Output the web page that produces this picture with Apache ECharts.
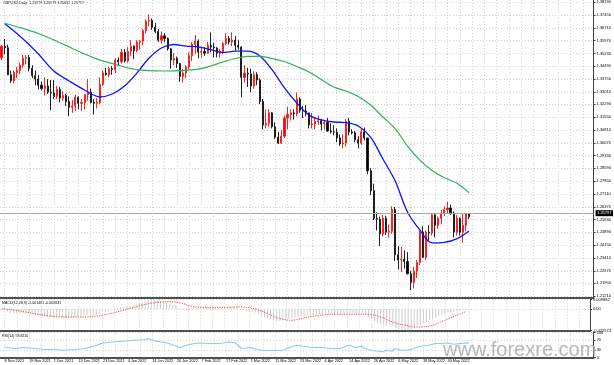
<!DOCTYPE html>
<html><head><meta charset="utf-8">
<script src="https://cdn.jsdelivr.net/npm/echarts@6/dist/echarts.min.js"></script>
<style>html,body{margin:0;padding:0;background:#fff;overflow:hidden}#c{width:614px;height:365px}</style>
</head><body><div id="c"></div>
<script>
// ---------------- data ----------------
const dates = [
'2021-11-08','2021-11-09','2021-11-10','2021-11-11','2021-11-12','2021-11-15','2021-11-16','2021-11-17','2021-11-18','2021-11-19',
'2021-11-22','2021-11-23','2021-11-24','2021-11-25','2021-11-26','2021-11-29','2021-11-30',
'2021-12-01','2021-12-02','2021-12-03','2021-12-06','2021-12-07','2021-12-08','2021-12-09','2021-12-10','2021-12-13','2021-12-14',
'2021-12-15','2021-12-16','2021-12-17','2021-12-20','2021-12-21','2021-12-22','2021-12-23','2021-12-24','2021-12-27','2021-12-28',
'2021-12-29','2021-12-30','2021-12-31',
'2022-01-03','2022-01-04','2022-01-05','2022-01-06','2022-01-07','2022-01-10','2022-01-11','2022-01-12','2022-01-13','2022-01-14',
'2022-01-17','2022-01-18','2022-01-19','2022-01-20','2022-01-21','2022-01-24','2022-01-25','2022-01-26','2022-01-27','2022-01-28','2022-01-31',
'2022-02-01','2022-02-02','2022-02-03','2022-02-04','2022-02-07','2022-02-08','2022-02-09','2022-02-10','2022-02-11','2022-02-14',
'2022-02-15','2022-02-16','2022-02-17','2022-02-18','2022-02-21','2022-02-22','2022-02-23','2022-02-24','2022-02-25','2022-02-28',
'2022-03-01','2022-03-02','2022-03-03','2022-03-04','2022-03-07','2022-03-08','2022-03-09','2022-03-10','2022-03-11','2022-03-14',
'2022-03-15','2022-03-16','2022-03-17','2022-03-18','2022-03-21','2022-03-22','2022-03-23','2022-03-24','2022-03-25','2022-03-28',
'2022-03-29','2022-03-30','2022-03-31',
'2022-04-01','2022-04-04','2022-04-05','2022-04-06','2022-04-07','2022-04-08','2022-04-11','2022-04-12','2022-04-13','2022-04-14',
'2022-04-15','2022-04-18','2022-04-19','2022-04-20','2022-04-21','2022-04-22','2022-04-25','2022-04-26','2022-04-27','2022-04-28','2022-04-29',
'2022-05-02','2022-05-03','2022-05-04','2022-05-05','2022-05-06','2022-05-09','2022-05-10','2022-05-11','2022-05-12','2022-05-13',
'2022-05-16','2022-05-17','2022-05-18','2022-05-19','2022-05-20','2022-05-23','2022-05-24','2022-05-25','2022-05-26','2022-05-27',
'2022-05-30','2022-05-31',
'2022-06-01','2022-06-02','2022-06-03','2022-06-06','2022-06-07','2022-06-08'
];
// [open, high, low, close]
const ohlc = [
[1.3498,1.3572,1.3486,1.3565],[1.3565,1.3607,1.3520,1.3556],[1.3556,1.3574,1.3398,1.3400],[1.3400,1.3424,1.3354,1.3365],[1.3365,1.3425,1.3350,1.3415],
[1.3415,1.3445,1.3380,1.3425],[1.3425,1.3470,1.3405,1.3455],[1.3455,1.3515,1.3440,1.3495],[1.3495,1.3515,1.3460,1.3500],[1.3500,1.3515,1.3420,1.3438],
[1.3438,1.3455,1.3380,1.3395],[1.3395,1.3425,1.3340,1.3375],[1.3375,1.3400,1.3315,1.3340],[1.3340,1.3360,1.3310,1.3320],[1.3320,1.3385,1.3280,1.3335],
[1.3335,1.3375,1.3290,1.3300],[1.3300,1.3370,1.3195,1.3295],[1.3295,1.3370,1.3260,1.3275],[1.3275,1.3335,1.3260,1.3315],[1.3315,1.3330,1.3240,1.3265],
[1.3265,1.3305,1.3250,1.3280],[1.3280,1.3290,1.3220,1.3245],[1.3245,1.3275,1.3160,1.3212],[1.3212,1.3255,1.3180,1.3220],[1.3220,1.3285,1.3190,1.3270],
[1.3270,1.3275,1.3200,1.3235],[1.3235,1.3260,1.3190,1.3240],[1.3240,1.3290,1.3200,1.3285],[1.3285,1.3375,1.3250,1.3300],[1.3300,1.3320,1.3235,1.3240],
[1.3240,1.3260,1.3170,1.3235],[1.3235,1.3265,1.3205,1.3240],[1.3240,1.3385,1.3230,1.3345],[1.3345,1.3425,1.3335,1.3410],[1.3410,1.3440,1.3395,1.3400],
[1.3400,1.3445,1.3385,1.3435],[1.3435,1.3450,1.3400,1.3430],[1.3430,1.3495,1.3410,1.3485],[1.3485,1.3500,1.3450,1.3475],[1.3475,1.3550,1.3465,1.3530],
[1.3530,1.3550,1.3470,1.3480],[1.3480,1.3560,1.3470,1.3535],[1.3535,1.3600,1.3510,1.3565],[1.3565,1.3570,1.3490,1.3540],[1.3540,1.3600,1.3530,1.3590],
[1.3590,1.3600,1.3545,1.3595],[1.3595,1.3665,1.3570,1.3655],[1.3655,1.3720,1.3640,1.3710],[1.3710,1.3749,1.3680,1.3715],[1.3715,1.3725,1.3660,1.3675],
[1.3675,1.3700,1.3640,1.3650],[1.3650,1.3665,1.3590,1.3600],[1.3600,1.3650,1.3580,1.3625],[1.3625,1.3640,1.3590,1.3610],[1.3610,1.3615,1.3540,1.3550],
[1.3550,1.3555,1.3435,1.3485],[1.3485,1.3525,1.3455,1.3495],[1.3495,1.3505,1.3440,1.3465],[1.3465,1.3470,1.3360,1.3390],[1.3390,1.3435,1.3355,1.3410],
[1.3410,1.3455,1.3380,1.3445],[1.3445,1.3530,1.3430,1.3510],[1.3510,1.3590,1.3480,1.3575],[1.3575,1.3630,1.3520,1.3595],[1.3595,1.3605,1.3495,1.3530],
[1.3530,1.3555,1.3500,1.3535],[1.3535,1.3560,1.3510,1.3525],[1.3525,1.3590,1.3520,1.3570],[1.3570,1.3645,1.3530,1.3560],[1.3560,1.3585,1.3500,1.3555],
[1.3555,1.3560,1.3500,1.3525],[1.3525,1.3550,1.3500,1.3535],[1.3535,1.3590,1.3520,1.3580],[1.3580,1.3640,1.3570,1.3610],[1.3610,1.3625,1.3575,1.3590],
[1.3590,1.3645,1.3565,1.3600],[1.3600,1.3625,1.3540,1.3570],[1.3570,1.3600,1.3545,1.3560],[1.3560,1.3565,1.3270,1.3385],[1.3385,1.3455,1.3355,1.3410],
[1.3410,1.3440,1.3330,1.3405],[1.3405,1.3435,1.3300,1.3335],[1.3335,1.3420,1.3320,1.3400],[1.3400,1.3415,1.3340,1.3370],[1.3370,1.3380,1.3230,1.3245],
[1.3245,1.3260,1.3085,1.3110],[1.3110,1.3200,1.3090,1.3120],[1.3120,1.3200,1.3100,1.3180],[1.3180,1.3185,1.3090,1.3100],[1.3100,1.3125,1.3030,1.3040],
[1.3040,1.3070,1.3000,1.3005],[1.3005,1.3080,1.3000,1.3045],[1.3045,1.3165,1.3035,1.3150],[1.3150,1.3215,1.3085,1.3170],[1.3170,1.3200,1.3135,1.3180],
[1.3180,1.3200,1.3140,1.3175],[1.3175,1.3298,1.3160,1.3260],[1.3260,1.3270,1.3180,1.3195],[1.3195,1.3220,1.3150,1.3190],[1.3190,1.3225,1.3160,1.3180],
[1.3180,1.3180,1.3090,1.3110],[1.3110,1.3180,1.3090,1.3115],[1.3115,1.3150,1.3085,1.3130],[1.3130,1.3165,1.3110,1.3135],[1.3135,1.3145,1.3080,1.3115],
[1.3115,1.3140,1.3085,1.3125],[1.3125,1.3150,1.3070,1.3075],[1.3075,1.3120,1.3060,1.3070],[1.3070,1.3110,1.3050,1.3068],[1.3068,1.3090,1.3010,1.3035],
[1.3035,1.3055,1.2990,1.3000],[1.3000,1.3055,1.2975,1.3005],[1.3005,1.3145,1.2985,1.3130],[1.3130,1.3150,1.3050,1.3070],[1.3070,1.3085,1.3055,1.3065],
[1.3065,1.3075,1.3010,1.3025],[1.3025,1.3045,1.2975,1.3005],[1.3005,1.3090,1.2995,1.3070],[1.3070,1.3095,1.3020,1.3035],[1.3035,1.3035,1.2825,1.2845],
[1.2845,1.2860,1.2705,1.2730],[1.2730,1.2770,1.2560,1.2570],[1.2570,1.2605,1.2500,1.2565],[1.2565,1.2580,1.2410,1.2480],[1.2480,1.2590,1.2465,1.2570],
[1.2570,1.2585,1.2475,1.2490],[1.2490,1.2535,1.2460,1.2495],[1.2495,1.2640,1.2480,1.2620],[1.2620,1.2635,1.2325,1.2360],[1.2360,1.2410,1.2275,1.2330],
[1.2330,1.2405,1.2260,1.2335],[1.2335,1.2385,1.2280,1.2320],[1.2320,1.2375,1.2245,1.2250],[1.2250,1.2265,1.2155,1.2200],[1.2200,1.2290,1.2165,1.2265],
[1.2265,1.2330,1.2225,1.2315],[1.2315,1.2500,1.2300,1.2490],[1.2490,1.2525,1.2340,1.2345],[1.2345,1.2500,1.2330,1.2490],[1.2490,1.2530,1.2435,1.2485],
[1.2485,1.2600,1.2470,1.2590],[1.2590,1.2600,1.2460,1.2530],[1.2530,1.2580,1.2510,1.2570],[1.2570,1.2620,1.2535,1.2600],[1.2600,1.2640,1.2585,1.2620],
[1.2620,1.2665,1.2600,1.2630],[1.2630,1.2650,1.2590,1.2600],[1.2600,1.2610,1.2460,1.2490],[1.2490,1.2590,1.2470,1.2570],[1.2570,1.2575,1.2470,1.2490],
[1.2490,1.2600,1.2430,1.2530],[1.2530,1.2600,1.2495,1.2598],[1.25979,1.25979,1.25662,1.25797]
];
// moving averages: [bar index, value]
const maBlue = [[1,1.3696],[7,1.3607],[12,1.3520],[17,1.3422],[22,1.3364],[27,1.3312],[32,1.3272],[36,1.3289],[40,1.3335],[44,1.3410],
[48,1.3497],[52,1.3555],[56,1.3575],[60,1.3566],[64,1.3561],[68,1.3546],[72,1.3529],[76,1.3537],[80,1.3537],[84,1.3509],[88,1.3428],
[92,1.3324],[96,1.3237],[100,1.3167],[104,1.3139],[108,1.3127],[112,1.3124],[116,1.3104],[120,1.3040],[124,1.2913],[128,1.2786],
[132,1.2607],[136,1.2503],[140,1.2428],[144,1.2431],[148,1.2451],[152,1.2497]];
const maGreen = [[1,1.3698],[7,1.3668],[12,1.3639],[17,1.3601],[22,1.3561],[27,1.3520],[32,1.3485],[36,1.3465],[40,1.3445],[44,1.3430],
[48,1.3424],[52,1.3422],[56,1.3423],[60,1.3426],[64,1.3433],[68,1.3451],[72,1.3474],[76,1.3494],[80,1.3506],[84,1.3506],[88,1.3494],
[92,1.3477],[96,1.3448],[100,1.3416],[104,1.3373],[108,1.3329],[112,1.3306],[116,1.3274],[120,1.3225],[124,1.3156],[128,1.3089],
[132,1.2988],[136,1.2907],[140,1.2847],[144,1.2805],[148,1.2774],[152,1.2718]];
// MACD(12,26,9) main (histogram), one per bar
const macdMain = [
-0.0005,-0.0012,-0.0030,-0.0042,-0.0046,-0.0048,-0.0050,-0.0045,-0.0042,-0.0048,
-0.0056,-0.0063,-0.0070,-0.0075,-0.0078,-0.0082,-0.0085,-0.0088,-0.0086,-0.0090,
-0.0092,-0.0095,-0.0098,-0.0095,-0.0088,-0.0085,-0.0082,-0.0078,-0.0070,-0.0070,
-0.0070,-0.0066,-0.0050,-0.0040,-0.0030,-0.0020,-0.0012,-0.0003,0.0010,0.0018,
0.0020,0.0028,0.0035,0.0040,0.0050,0.0058,0.0070,0.0085,0.0095,0.0099,
0.0094,0.0084,0.0078,0.0070,0.0062,0.0055,0.0045,0.0035,0.0015,0.0005,
0.0000,0.0005,0.0012,0.0018,0.0015,0.0014,0.0012,0.0015,0.0016,0.0015,
0.0012,0.0012,0.0016,0.0022,0.0024,0.0027,0.0026,0.0024,0.0000,-0.0012,
-0.0018,-0.0030,-0.0032,-0.0038,-0.0055,-0.0078,-0.0088,-0.0092,-0.0102,-0.0115,
-0.0128,-0.0130,-0.0122,-0.0115,-0.0108,-0.0100,-0.0088,-0.0084,-0.0080,-0.0076,
-0.0072,-0.0068,-0.0064,-0.0060,-0.0058,-0.0055,-0.0056,-0.0056,-0.0056,-0.0058,
-0.0062,-0.0062,-0.0052,-0.0050,-0.0048,-0.0050,-0.0052,-0.0046,-0.0046,-0.0062,
-0.0085,-0.0108,-0.0128,-0.0148,-0.0155,-0.0165,-0.0172,-0.0165,-0.0185,-0.0200,
-0.0210,-0.0215,-0.0220,-0.0226,-0.0218,-0.0205,-0.0178,-0.0170,-0.0150,-0.0138,
-0.0118,-0.0108,-0.0092,-0.0072,-0.0055,-0.0045,-0.0035,-0.0035,-0.0025,-0.0022,
-0.0017,-0.0010,-0.0015
];
const macdSignal = [[0,0.0003],[4,-0.0012],[8,-0.0033],[14,-0.0066],[20,-0.0084],[27,-0.0084],[33,-0.0066],[40,-0.0013],[46,0.0040],
[50,0.0065],[55,0.0076],[59,0.0059],[63,0.0022],[68,0.0016],[74,0.0016],[78,0.0022],[83,0.0000],[87,-0.0048],[91,-0.0101],[95,-0.0119],
[98,-0.0101],[104,-0.0066],[111,-0.0055],[120,-0.0055],[124,-0.0084],[128,-0.0137],[132,-0.0172],[136,-0.0190],[141,-0.0172],
[145,-0.0119],[149,-0.0066],[152,-0.0026]];
const rsi14 = [[1,42],[4,36],[7,40],[11,36],[14,32],[17,32],[20,29],[24,32],[27,36],[30,45],[33,58],[36,62],[40,66],[43,69],[46,71],
[48,75],[50,66],[54,58],[56,49],[58,40],[61,52],[64,58],[68,56],[71,56],[74,62],[76,58],[78,36],[81,40],[83,32],[86,27],[89,29],
[91,27],[94,42],[96,49],[98,45],[101,40],[104,40],[107,36],[110,36],[113,49],[115,40],[117,45],[119,32],[121,27],[124,23],[125,29],
[127,25],[128,36],[130,29],[132,29],[134,36],[136,45],[139,49],[141,56],[143,56],[145,58],[147,53],[149,56],[152,58.8]];
const priceTicks = [1.38190,1.37450,1.36710,1.35970,1.35230,1.34490,1.33750,1.33010,1.32290,1.31550,1.30810,1.30070,
1.29330,1.28590,1.27850,1.27110,1.26370,1.25630,1.24890,1.24150,1.23410,1.22670,1.21950,1.21210];
const macdTicks = [0.009882, 0, -0.022574];
const macdTickText = ['0.009882','0.00','-0.022574'];
const rsiTicks = [100, 70, 30, 0];
const xTickIdx = [1,9,17,25,33,41,49,57,65,73,81,89,97,105,113,121,129,137,145];
const xTickText = ['8 Nov 2021','19 Nov 2021','1 Dec 2021','13 Dec 2021','23 Dec 2021','4 Jan 2022','14 Jan 2022','26 Jan 2022',
'7 Feb 2022','17 Feb 2022','1 Mar 2022','11 Mar 2022','23 Mar 2022','4 Apr 2022','14 Apr 2022','26 Apr 2022','6 May 2022','18 May 2022','30 May 2022'];
const lastPrice = 1.25797;
const headerMain = 'GBPUSD,Daily  1.25979 1.25979 1.25662 1.25797';
const headerMacd = 'MACD(12,26,9) -0.001481 -0.002631';
const headerRsi = 'RSI(14) 58.8210';
const watermark = 'www.forexre.com';

// ---------------- layout ----------------
const FUTURE = 40;
const cats = dates.concat(Array.from({length: FUTURE}, (_, i) => 'f' + i));
const F = '"Liberation Sans", Arial, sans-serif';
const GL = -4.65, GW = 598.3;
const gridLine = {show: true, lineStyle: {color: '#d2d2d2', width: 1, type: [1, 2]}};

function xAx(gi, withLabels) {
  return {
    type: 'category', gridIndex: gi, data: cats, boundaryGap: true,
    axisLine: {show: true, onZero: false, lineStyle: {color: '#505050', width: 2}},
    axisTick: {show: false},
    splitLine: Object.assign({interval: (i) => i % 4 === 1, alignWithLabel: true}, gridLine),
    axisLabel: withLabels ? {
      show: true, interval: (i) => xTickIdx.indexOf(i) >= 0,
      formatter: (v, i) => { const k = xTickIdx.indexOf(i); return k >= 0 ? xTickText[k] : ''; },
      align: 'left', fontSize: 3.8, fontFamily: F, color: '#000', margin: 1.6
    } : {show: false}
  };
}
function yAx(gi, min, max, ticks, fmt, extra) {
  return Object.assign({
    type: 'value', gridIndex: gi, position: 'right', min: min, max: max, scale: true,
    axisLine: {show: true, lineStyle: {color: '#404040', width: 1}},
    axisTick: {show: true, length: 2, customValues: ticks, lineStyle: {color: '#404040'}},
    splitLine: gridLine,
    axisLabel: {show: true, customValues: ticks, formatter: fmt, fontSize: 4, fontFamily: F, color: '#000', margin: 3}
  }, extra || {});
}

const chart = echarts.init(document.getElementById('c'), null, {renderer: 'canvas'});
chart.setOption({
  animation: false,
  backgroundColor: '#ffffff',
  grid: [
    {left: GL, top: 0, width: GW, height: 297.5},
    {left: GL, top: 299.5, width: GW, height: 31},
    {left: GL, top: 332.5, width: GW, height: 25}
  ],
  xAxis: [xAx(0, false), xAx(1, false), xAx(2, true)],
  yAxis: [
    yAx(0, 1.21126, 1.38323, priceTicks, (v) => v.toFixed(5)),
    yAx(1, -0.022574, 0.009882, macdTicks, (v) => { const k = macdTicks.findIndex(t => Math.abs(t - v) < 1e-7); return k >= 0 ? macdTickText[k] : ''; },
        {}),
    yAx(2, 0, 100, rsiTicks, (v) => String(v))
  ],
  series: [
    {
      type: 'candlestick', xAxisIndex: 0, yAxisIndex: 0, barWidth: 1.6,
      data: ohlc.map(r => [r[0], r[3], r[2], r[1]]),
      itemStyle: {color: '#ff0000', color0: '#000000', borderColor: '#ff2020', borderColor0: '#202020', borderWidth: 1},
      markLine: {
        silent: true, symbol: 'none', animation: false,
        data: [{yAxis: lastPrice}],
        lineStyle: {color: '#a8a8a8', width: 1, type: 'solid'},
        label: {show: true, position: 'end', distance: 2, formatter: lastPrice.toFixed(5),
                backgroundColor: '#000', color: '#fff', fontSize: 4, fontFamily: F, padding: [1, 1.5]}
      }
    },
    {type: 'line', xAxisIndex: 0, yAxisIndex: 0, data: maBlue, showSymbol: false, smooth: 0.35,
     lineStyle: {color: '#0a14ff', width: 1.3}},
    {type: 'line', xAxisIndex: 0, yAxisIndex: 0, data: maGreen, showSymbol: false, smooth: 0.35,
     lineStyle: {color: '#2fb05a', width: 1.2}},
    {type: 'bar', xAxisIndex: 1, yAxisIndex: 1, data: macdMain, barWidth: 1,
     itemStyle: {color: '#cdcdcd'}},
    {type: 'line', xAxisIndex: 1, yAxisIndex: 1, data: macdSignal, showSymbol: false, smooth: 0.35,
     lineStyle: {color: '#f05050', width: 1, type: [1.2, 1.2]}},
    {type: 'line', xAxisIndex: 2, yAxisIndex: 2, data: rsi14, showSymbol: false,
     lineStyle: {color: '#8fc8f4', width: 1.2}}
  ],
  graphic: [
    {type: 'text', left: 3, top: 1.2, silent: true, style: {text: headerMain, font: '3.6px ' + F, fill: '#000'}},
    {type: 'text', left: 2, top: 300.6, silent: true, style: {text: headerMacd, font: '3.6px ' + F, fill: '#000'}},
    {type: 'text', left: 2, top: 333.6, silent: true, style: {text: headerRsi, font: '3.6px ' + F, fill: '#000'}},
    {type: 'text', left: 443, top: 340.5, silent: true, z: 100, style: {text: watermark, font: '20px ' + F, fill: 'rgba(170,170,170,0.85)'}}
  ]
});
</script>
</body></html>
